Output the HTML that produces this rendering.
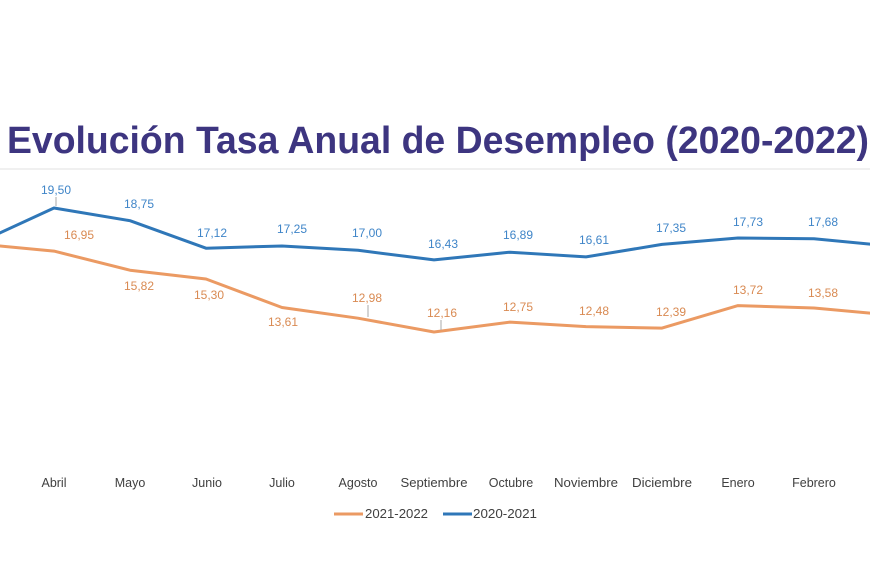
<!DOCTYPE html>
<html>
<head>
<meta charset="utf-8">
<style>
  html, body { margin:0; padding:0; background:#ffffff; }
  body { width:870px; height:570px; overflow:hidden; }
  svg { display:block; }
  text { font-family: "Liberation Sans", Arial, sans-serif; }
</style>
</head>
<body>
<svg width="870" height="570" viewBox="0 0 870 570" xmlns="http://www.w3.org/2000/svg">
  <rect x="0" y="0" width="870" height="570" fill="#ffffff"/>

  <!-- Title -->
  <text x="7" y="153" font-size="38" font-weight="bold" fill="#3d3580" textLength="862" lengthAdjust="spacingAndGlyphs">Evolución Tasa Anual de Desempleo (2020-2022)</text>
  <line x1="0" y1="169" x2="870" y2="169" stroke="#ececec" stroke-width="1.5"/>

  <!-- Blue series 2020-2021 -->
  <polyline fill="none" stroke="#2f77b8" stroke-width="3" stroke-linejoin="round" stroke-linecap="round"
    points="-22,243 54,208 130,220.7 206,248.2 282,246 358,250.3 434,259.9 510,252.2 586,256.9 662,244.4 738,238 814,238.8 890,246"/>

  <!-- Orange series 2021-2022 -->
  <polyline fill="none" stroke="#eb9a63" stroke-width="3" stroke-linejoin="round" stroke-linecap="round"
    points="-22,244 54,251.1 130,270.2 206,279 282,307.5 358,318.2 434,332 510,322.1 586,326.6 662,328.1 738,305.6 814,308 890,315"/>

  <!-- leader lines -->
  <g stroke="#a8a8a8" stroke-width="1">
    <line x1="56" y1="197" x2="56" y2="206"/>
    <line x1="368" y1="305" x2="368" y2="317"/>
    <line x1="441" y1="320" x2="441" y2="330"/>
  </g>

  <!-- Blue labels -->
  <g font-size="12" fill="#3f85c8" text-anchor="middle">
    <text x="56" y="194">19,50</text>
    <text x="139" y="208">18,75</text>
    <text x="212" y="237">17,12</text>
    <text x="292" y="233">17,25</text>
    <text x="367" y="237">17,00</text>
    <text x="443" y="248">16,43</text>
    <text x="518" y="239">16,89</text>
    <text x="594" y="244">16,61</text>
    <text x="671" y="232">17,35</text>
    <text x="748" y="226">17,73</text>
    <text x="823" y="226">17,68</text>
  </g>

  <!-- Orange labels -->
  <g font-size="12" fill="#d98a52" text-anchor="middle">
    <text x="79" y="239">16,95</text>
    <text x="139" y="290">15,82</text>
    <text x="209" y="299">15,30</text>
    <text x="283" y="326">13,61</text>
    <text x="367" y="302">12,98</text>
    <text x="442" y="317">12,16</text>
    <text x="518" y="311">12,75</text>
    <text x="594" y="315">12,48</text>
    <text x="671" y="316">12,39</text>
    <text x="748" y="294">13,72</text>
    <text x="823" y="297">13,58</text>
  </g>

  <!-- X axis labels -->
  <g font-size="12.5" fill="#404040" text-anchor="middle">
    <text x="54" y="487">Abril</text>
    <text x="130" y="487">Mayo</text>
    <text x="207" y="487">Junio</text>
    <text x="282" y="487">Julio</text>
    <text x="358" y="487">Agosto</text>
    <text x="434" y="487" textLength="67" lengthAdjust="spacingAndGlyphs">Septiembre</text>
    <text x="511" y="487">Octubre</text>
    <text x="586" y="487" textLength="64" lengthAdjust="spacingAndGlyphs">Noviembre</text>
    <text x="662" y="487" textLength="60" lengthAdjust="spacingAndGlyphs">Diciembre</text>
    <text x="738" y="487">Enero</text>
    <text x="814" y="487">Febrero</text>
  </g>

  <!-- Legend -->
  <line x1="334" y1="514" x2="363" y2="514" stroke="#eb9a63" stroke-width="3"/>
  <text x="365" y="518" font-size="12.5" fill="#404040" textLength="63" lengthAdjust="spacingAndGlyphs">2021-2022</text>
  <line x1="443" y1="514" x2="472" y2="514" stroke="#2f77b8" stroke-width="3"/>
  <text x="473" y="518" font-size="12.5" fill="#404040" textLength="64" lengthAdjust="spacingAndGlyphs">2020-2021</text>
</svg>
</body>
</html>
